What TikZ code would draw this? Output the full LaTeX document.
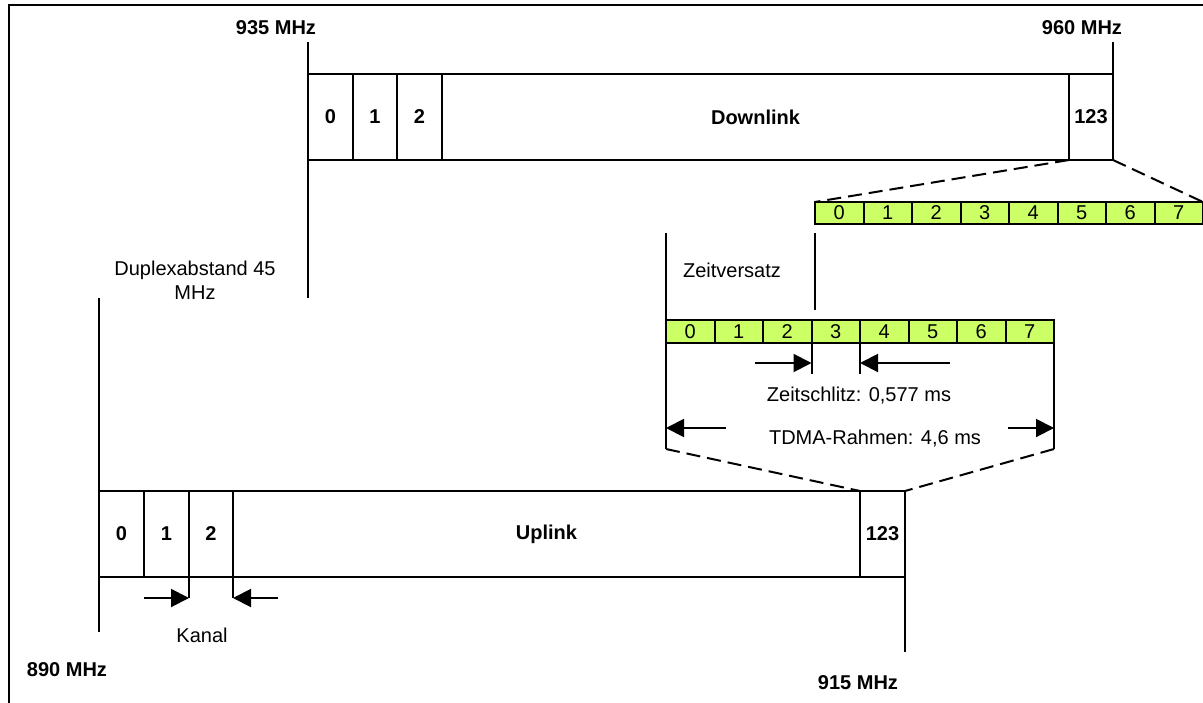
\documentclass[tikz,border=0pt]{standalone}
\usepackage{fontspec}
\setmainfont{Liberation Sans}
\usetikzlibrary{arrows.meta}
\definecolor{slotgreen}{RGB}{204,255,102}
\begin{document}
\begin{tikzpicture}[x=1pt,y=-1pt,line width=2pt,
  chan/.style={draw,rectangle,anchor=north west,inner sep=0pt,outer sep=0pt,minimum height=86pt,font=\bfseries\fontsize{20}{24}\selectfont},
  slot/.style={draw,fill=slotgreen,rectangle,anchor=north west,inner sep=0pt,outer sep=0pt,minimum width=48.5pt,minimum height=23pt,font=\fontsize{20}{24}\selectfont},
  lbl/.style={inner sep=0pt,font=\fontsize{20}{24}\selectfont},
  blbl/.style={inner sep=0pt,font=\bfseries\fontsize{20}{24}\selectfont},
  dimarrow/.style={-{Triangle[length=18pt,width=18pt]}},
  zoomline/.style={dash pattern=on 14pt off 7pt}]
\useasboundingbox (0,0) rectangle (1203,702);
% frame
\coordinate (fbl) at (9,703);
\coordinate (ftl) at (9,5);
\coordinate (ftr) at (1204,5);
\draw (fbl) -- (ftl) -- (ftr);

% Downlink band
\node[chan,minimum width=45pt] (d0) at (308,74) {0};
\node[chan,minimum width=44pt] (d1) at (353,74) {1};
\node[chan,minimum width=45pt] (d2) at (397,74) {2};
\node[chan,minimum width=627pt] (dbig) at (442,74) {Downlink};
\node[chan,minimum width=44pt] (d123) at (1069,74) {123};
\coordinate (dLtop) at (308,42);
\coordinate (dLbot) at (308,298);
\coordinate (dRtop) at (1113,42);
\draw (dLtop) -- (dLbot);
\draw (dRtop) -- (d123.south east);
\node[blbl] (f935) at (276,28) {935 MHz};
\node[blbl] (f960) at (1082,28) {960 MHz};

% Top slot strip
\foreach \i in {0,...,7}{
  \node[slot,minimum height=22pt] (t\i) at ({815+48.5*\i},202) {\i};
}
\draw[zoomline] (d123.south west) -- (t0.north west);
\draw[zoomline] (d123.south east) -- (t7.north east);

% Zeitversatz
\coordinate (zvLtop) at (666,233);
\coordinate (zvLbot) at (666,449);
\coordinate (zvRtop) at (815,233);
\coordinate (zvRbot) at (815,310);
\draw (zvLtop) -- (zvLbot);
\draw (zvRtop) -- (zvRbot);
\node[lbl] (zv) at (732,270) {Zeitversatz};

% Bottom slot strip
\foreach \i in {0,...,7}{
  \node[slot] (s\i) at ({666+48.5*\i},320) {\i};
}
\coordinate (m3) at (811.5,374);
\coordinate (m4) at (860,374);
\draw (s3.south west) -- (m3);
\draw (s4.south west) -- (m4);
\coordinate (a3) at (755,363);
\coordinate (a3e) at (811.5,363);
\coordinate (a4) at (950,363);
\coordinate (a4e) at (860,363);
\draw[dimarrow] (a3) -- (a3e);
\draw[dimarrow] (a4) -- (a4e);
\node[lbl] (zs) at (859,396) {Zeitschlitz: 0,577 ms};

\coordinate (trR) at (1054,449);
\draw (s7.south east) -- (trR);
\coordinate (tA1) at (726,428);
\coordinate (tA1e) at (666,428);
\coordinate (tA2) at (1008,428);
\coordinate (tA2e) at (1054,428);
\draw[dimarrow] (tA1) -- (tA1e);
\draw[dimarrow] (tA2) -- (tA2e);
\node[lbl] (tdma) at (875,439) {TDMA-Rahmen: 4,6 ms};

% Uplink band
\node[chan,minimum width=45pt] (u0) at (99,491) {0};
\node[chan,minimum width=45pt] (u1) at (144,491) {1};
\node[chan,minimum width=44pt] (u2) at (189,491) {2};
\node[chan,minimum width=627pt] (ubig) at (233,491) {Uplink};
\node[chan,minimum width=45pt] (u123) at (860,491) {123};
\draw[zoomline] (zvLbot) -- (u123.north west);
\draw[zoomline] (trR) -- (u123.north east);
\coordinate (uLtop) at (99,298);
\coordinate (uLbot) at (99,632);
\coordinate (uRbot) at (905,652);
\draw (uLtop) -- (uLbot);
\draw (u123.north east) -- (uRbot);
\node[lbl,align=center] (dup) at (195,280) {Duplexabstand 45\\MHz};

% Kanal
\coordinate (k1) at (189,598);
\coordinate (k2) at (233,598);
\coordinate (k1s) at (144,598);
\coordinate (k2s) at (278,598);
\draw (u2.south west) -- (k1);
\draw (ubig.south west) -- (k2);
\draw[dimarrow] (k1s) -- (k1);
\draw[dimarrow] (k2s) -- (k2);
\node[lbl] (kanal) at (202,635) {Kanal};

\node[blbl] (f890) at (67,670) {890 MHz};
\node[blbl] (f915) at (858,683) {915 MHz};
\end{tikzpicture}
\end{document}
